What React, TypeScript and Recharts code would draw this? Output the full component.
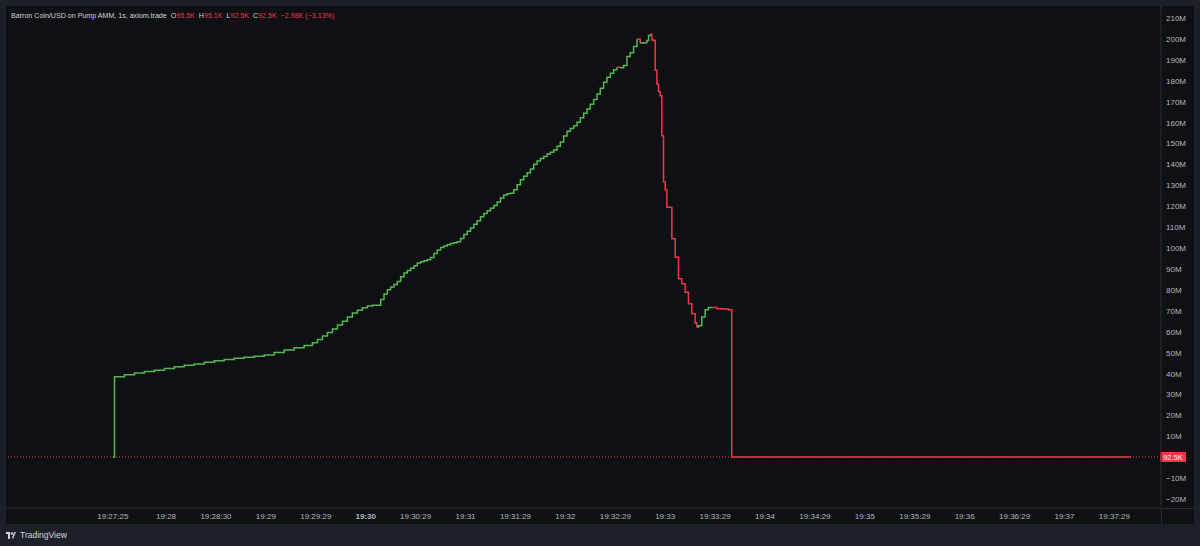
import { LineChart, Line, XAxis, YAxis, ReferenceLine } from 'recharts';

// seconds from 19:27:00 (bar index, ~1 bar per second)
const times = [
  28, 29, 35, 41, 47, 53, 59, 65, 71, 77, 83, 89, 95, 101, 107, 113, 119, 125, 131, 137,
  143, 148, 151, 154, 157, 160, 163, 166, 169, 172, 175, 178, 181, 184, 187, 189, 191, 193, 195, 197,
  199, 201, 203, 205, 207, 209, 211, 213, 215, 217, 219, 221, 223, 225, 227, 229, 231, 233, 235, 237,
  239, 241, 243, 245, 247, 249, 251, 253, 255, 257, 259, 261, 263, 265, 267, 269, 271, 273, 275, 277,
  279, 281, 283, 285, 287, 289, 291, 293, 295, 297, 299, 301, 303, 305, 307, 309, 311, 313, 315, 317,
  319, 321, 323, 325, 327, 329, 331, 333, 335, 337, 339, 341, 343, 345, 347, 349, 350, 351, 352, 353,
  354, 355, 356, 357, 358, 359, 360, 361, 364, 366, 368, 370, 372, 374, 376, 378, 379, 380, 382, 384,
  386, 388, 391, 395, 398, 400, 640,
];

// price in millions USD
const prices = [
  0.0925, 38.5, 39.4, 40.2, 40.9, 41.6, 42.4, 43.2, 43.9, 44.6, 45.4, 46.1, 46.7, 47.3, 47.8, 48.3, 48.9, 50.0, 51.2, 52.3,
  53.4, 54.7, 56.2, 57.9, 59.6, 61.3, 63.2, 65.0, 67.0, 68.9, 70.3, 71.4, 72.3, 72.6, 72.6, 75.4, 78.0, 80.1, 81.3, 82.5,
  84.0, 86.2, 88.0, 89.2, 90.3, 91.5, 92.8, 93.4, 93.9, 94.4, 95.5, 97.4, 99.1, 100.3, 101.0, 101.6, 102.1, 102.5, 103.0, 104.6,
  106.5, 108.0, 109.6, 111.3, 113.0, 114.9, 116.5, 117.8, 119.0, 120.3, 122.0, 123.9, 125.4, 125.9, 126.2, 127.8, 130.3, 132.6, 134.3, 136.0,
  137.8, 140.0, 141.6, 142.8, 143.7, 144.9, 145.8, 146.9, 148.6, 150.7, 153.5, 155.8, 157.1, 158.4, 160.1, 162.3, 164.4, 166.4, 168.7, 171.0,
  173.6, 176.4, 179.2, 181.6, 183.6, 185.2, 186.4, 186.2, 187.3, 191.6, 193.3, 196.3, 199.8, 198.0, 198.1, 199.2, 201.6, 202.2, 199.4, 199.2,
  185.0, 178.4, 174.8, 172.8, 153.7, 131.6, 127.8, 119.5, 104.4, 95.6, 85.3, 82.9, 78.9, 73.4, 68.6, 64.1, 62.2, 62.8, 67.0, 70.5,
  71.5, 71.6, 71.0, 70.8, 70.5, 0.0925, 0.0925,
];

const lastPrice = 0.0925;

const timeTicks = [28, 60, 90, 120, 150, 180, 210, 240, 270, 300, 330, 360, 390, 420, 450, 480, 510, 540, 570, 600, 630];
const timeLabels = [
  '19:27:25', '19:28', '19:28:30', '19:29', '19:29:29', '19:30', '19:30:29', '19:31', '19:31:29', '19:32', '19:32:29',
  '19:33', '19:33:29', '19:34', '19:34:29', '19:35', '19:35:29', '19:36', '19:36:29', '19:37', '19:37:29',
];
const priceTicks = [-20, -10, 10, 20, 30, 40, 50, 60, 70, 80, 90, 100, 110, 120, 130, 140, 150, 160, 170, 180, 190, 200, 210];

const UP = '#52b84f';
const DOWN = '#f23645';
const AXIS_TEXT = '#b2b5be';
const FONT = '"Liberation Sans", Arial, sans-serif';

// split the step line into up / down runs so each run gets its own colour
function buildRuns() {
  const runs: { dir: 'up' | 'down'; from: number; to: number }[] = [];
  for (let i = 1; i < prices.length; i++) {
    const prev = runs[runs.length - 1];
    const dir = prices[i] > prices[i - 1] ? 'up' : prices[i] < prices[i - 1] ? 'down' : prev ? prev.dir : 'up';
    if (prev && prev.dir === dir) prev.to = i;
    else runs.push({ dir, from: i - 1, to: i });
  }
  return runs.map((r) => ({
    dir: r.dir,
    data: times.slice(r.from, r.to + 1).map((t, k) => ({ t, v: prices[r.from + k] })),
  }));
}

const TimeTick = (props: any) => {
  const { x, y, payload } = props;
  const label = timeLabels[timeTicks.indexOf(payload.value)] ?? '';
  return (
    <text x={x} y={y + 11} textAnchor="middle" fill={AXIS_TEXT} fontSize={8} fontFamily={FONT}
      fontWeight={label === '19:30' ? 700 : 400}>
      {label}
    </text>
  );
};

const PriceTick = (props: any) => {
  const { x, y, payload } = props;
  const v = payload.value as number;
  const s = (v < 0 ? '\u2212' + Math.abs(v) : String(v)) + 'M';
  return (
    <text x={x + 5} y={y + 3} textAnchor="start" fill={AXIS_TEXT} fontSize={8} fontFamily={FONT}>
      {s}
    </text>
  );
};

const LastPriceLabel = (props: any) => {
  const { viewBox } = props;
  const x = viewBox.x + viewBox.width;
  const y = viewBox.y;
  return (
    <g>
      <rect x={x - 1} y={y - 5} width={26} height={10} fill={DOWN} rx={1} />
      <text x={x + 12} y={y + 3} textAnchor="middle" fill="#ffffff" fontSize={7.5} fontFamily={FONT}>
        92.5K
      </text>
    </g>
  );
};

export default function App() {
  const runs = buildRuns();
  return (
    <div style={{ position: 'absolute', left: 0, top: 0, width: 1200, height: 546, background: '#1d2029', fontFamily: FONT }}>
      <div style={{ position: 'absolute', left: 6, top: 6, width: 1188, height: 518, background: '#0f1014', borderRadius: 2 }}>
        <LineChart width={1188} height={518} margin={{ top: 0, right: 0, bottom: 0, left: 0 }}>
          <XAxis
            dataKey="t"
            type="number"
            domain={[-36.2, 658]}
            ticks={timeTicks}
            interval={0}
            allowDataOverflow
            height={16}
            tickLine={false}
            tickSize={0}
            tickMargin={0}
            axisLine={{ stroke: '#2a2d35' }}
            tick={<TimeTick />}
          />
          <YAxis
            orientation="right"
            type="number"
            domain={[-24.3, 215.7]}
            ticks={priceTicks}
            interval={0}
            allowDataOverflow
            width={33}
            tickLine={false}
            tickSize={0}
            tickMargin={0}
            axisLine={{ stroke: '#2a2d35' }}
            tick={<PriceTick />}
          />
          <ReferenceLine
            y={lastPrice}
            stroke={DOWN}
            strokeWidth={1}
            strokeDasharray="1 2"
            label={<LastPriceLabel />}
          />
          {runs.map((r, i) => (
            <Line
              key={i}
              data={r.data}
              dataKey="v"
              type="stepAfter"
              stroke={r.dir === 'up' ? UP : DOWN}
              strokeWidth={1.5}
              dot={false}
              activeDot={false}
              isAnimationActive={false}
            />
          ))}
        </LineChart>
        <div style={{ position: 'absolute', left: 1155, top: 502, width: 1, height: 16, background: '#2a2d35' }} />
        <div style={{ position: 'absolute', left: 1155, top: 502, width: 33, height: 1, background: '#2a2d35' }} />
        <div style={{ position: 'absolute', left: 5, top: 5, fontSize: 7.1, color: '#d1d4dc', whiteSpace: 'nowrap', lineHeight: '10px' }}>
          Barron Coin/USD on Pump AMM, 1s, axiom.trade
          <span style={{ marginLeft: 4 }}>O</span><span style={{ color: DOWN }}>95.5K</span>
          <span style={{ marginLeft: 4 }}>H</span><span style={{ color: DOWN }}>95.1K</span>
          <span style={{ marginLeft: 4 }}>L</span><span style={{ color: DOWN }}>92.5K</span>
          <span style={{ marginLeft: 4 }}>C</span><span style={{ color: DOWN }}>92.5K</span>
          <span style={{ marginLeft: 4, color: DOWN }}>−2.98K (−3.13%)</span>
        </div>
      </div>
      <div style={{ position: 'absolute', left: 6, top: 530, display: 'flex', alignItems: 'center', color: '#d1d4dc', fontSize: 8.5 }}>
        <svg width={10} height={7} style={{ marginRight: 4 }}>
          <rect x={0} y={0} width={4} height={2} fill="#d1d4dc" />
          <rect x={2} y={0} width={2} height={7} fill="#d1d4dc" />
          <circle cx={6} cy={1.5} r={1.3} fill="#d1d4dc" />
          <polygon points="7,7 10,0 8.5,0 6,5.5" fill="#d1d4dc" />
        </svg>
        TradingView
      </div>
    </div>
  );
}
